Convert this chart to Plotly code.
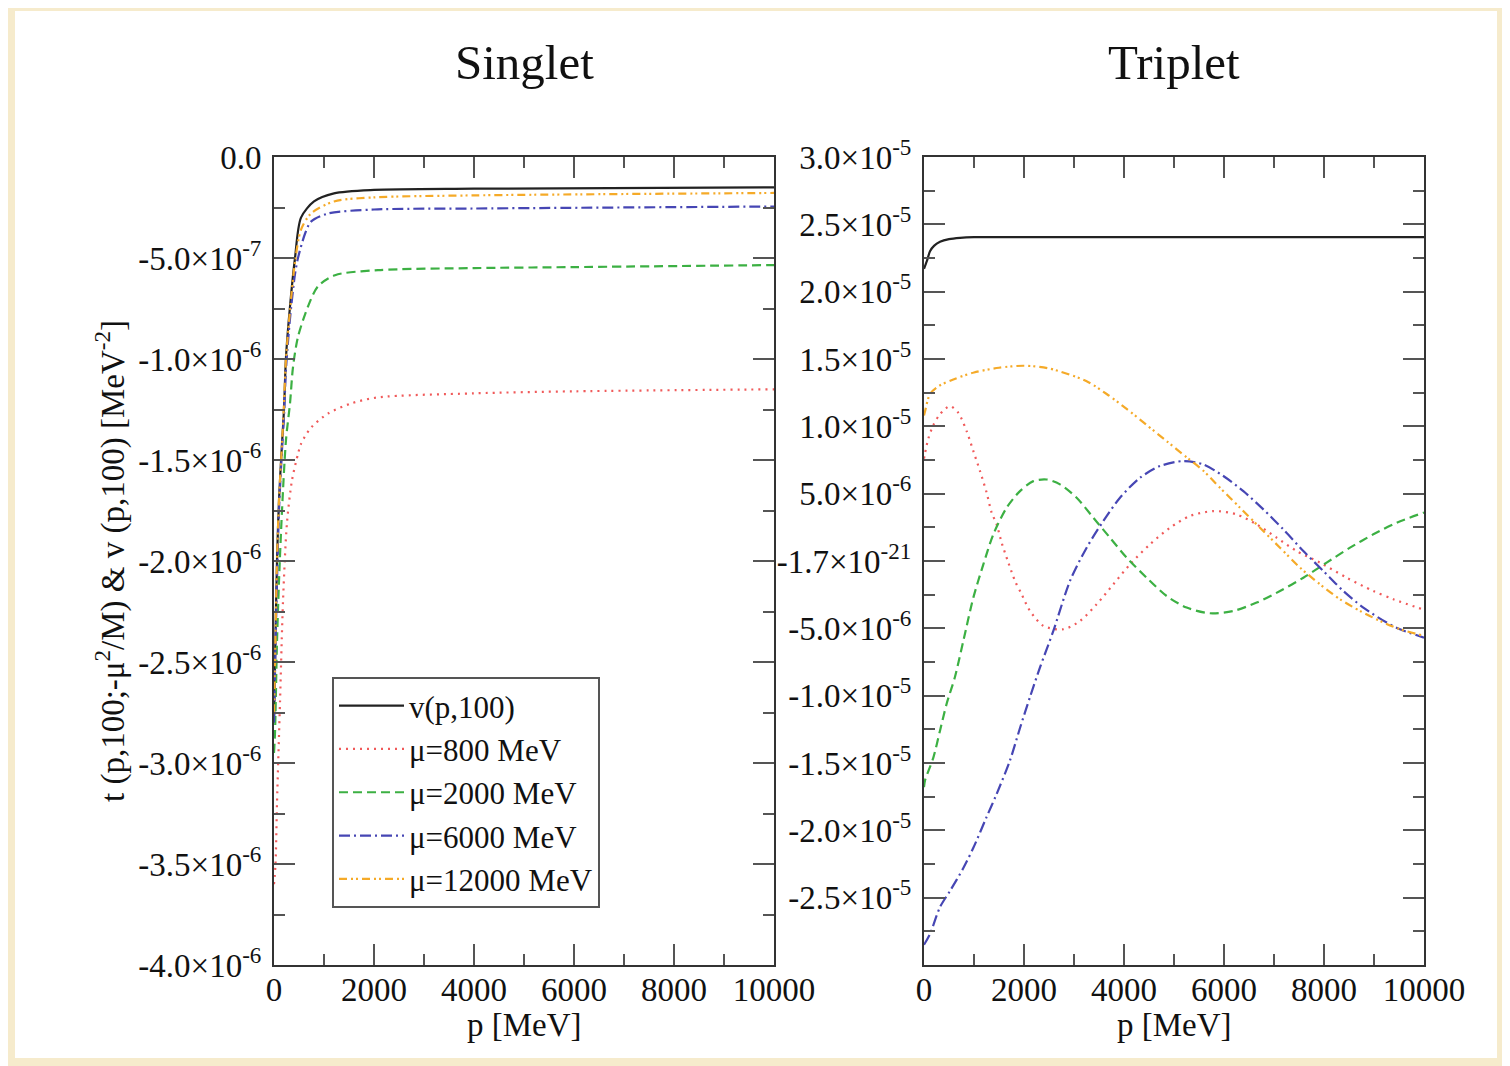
import plotly.graph_objects as go

# page offset (browser body margin) compensation
OX, OY = 8, 8
W, H = 1502, 1058

# ---------------- data (values in units of 1e-6 MeV^-2) ----------------
# Singlet panel
s_v_p   = [0, 20, 60, 100, 160, 200, 240, 320, 420, 540, 800, 1200, 2000, 4000, 10000]
s_v     = [-2.8, -2.5, -2.0, -1.7, -1.42, -1.25, -0.99, -0.74, -0.5, -0.30, -0.22, -0.18, -0.163, -0.157, -0.15]

s_800_p = [0, 30, 60, 120, 180, 260, 360, 480, 540, 740, 1080, 1540, 2080, 4000, 6000, 10000]
s_800   = [-3.6, -3.5, -3.2, -2.7, -2.2, -1.81, -1.6, -1.47, -1.42, -1.34, -1.27, -1.22, -1.19, -1.17, -1.16, -1.15]

s_2000_p = [0, 20, 60, 100, 160, 240, 320, 380, 480, 680, 880, 1220, 2080, 4000, 6000, 10000]
s_2000   = [-2.95, -2.85, -2.4, -2.1, -1.75, -1.40, -1.22, -1.04, -0.89, -0.74, -0.64, -0.585, -0.56, -0.55, -0.545, -0.535]

s_6000_p = [0, 20, 60, 100, 160, 200, 240, 320, 420, 480, 620, 740, 1080, 2000, 4000, 10000]
s_6000   = [-2.8, -2.55, -2.1, -1.75, -1.45, -1.28, -1.05, -0.8, -0.58, -0.5, -0.38, -0.32, -0.28, -0.26, -0.255, -0.245]

s_12000_p = [0, 20, 60, 100, 160, 200, 240, 320, 420, 540, 740, 1200, 2000, 4000, 10000]
s_12000   = [-2.75, -2.5, -2.0, -1.7, -1.42, -1.22, -1.0, -0.76, -0.52, -0.36, -0.28, -0.22, -0.2, -0.19, -0.178]

# Triplet panel
t_v_p = [0, 60, 120, 200, 320, 500, 720, 1000, 10000]
t_v   = [21.7, 22.3, 23.0, 23.4, 23.7, 23.9, 24.0, 24.05, 24.05]

t_800_p = [0, 20, 87, 187, 320, 520, 687, 853, 987, 1120, 1253, 1353, 1453, 1553, 1687, 1820, 1953,
           2120, 2387, 2787, 3120, 3453, 3787, 4120, 4520, 4920, 5320, 5787, 6253, 6653, 7053, 7453,
           7920, 8453, 8987, 9387, 10000]
t_800   = [7.6, 8.0, 9.1, 10.1, 10.9, 11.5, 11.0, 9.64, 8.16, 6.68, 5.07, 3.59, 2.72, 1.36, -0.12, -1.48, -2.47,
           -3.71, -4.82, -5.07, -4.45, -3.21, -1.73, -0.25, 1.24, 2.47, 3.34, 3.71, 3.46, 2.72, 1.73, 0.74,
           -0.12, -1.24, -2.23, -2.84, -3.62]

t_2000_p = [0, 20, 187, 320, 453, 620, 787, 987, 1187, 1387, 1653, 1920, 2187, 2453, 2720, 3053, 3387,
            3720, 4053, 4453, 4853, 5253, 5720, 6187, 6653, 7120, 7587, 8053, 8520, 8987, 9453, 10000]
t_2000   = [-16.8, -16.3, -14.6, -12.6, -10.6, -8.6, -5.93, -2.72, -0.25, 1.98, 3.96, 5.19, 5.93, 6.05, 5.69, 4.70, 3.21,
            1.73, 0.25, -1.24, -2.60, -3.46, -3.88, -3.71, -3.09, -2.23, -1.24, -0.12, 0.99, 1.98, 2.84, 3.6]

t_6000_p = [0, 120, 320, 520, 787, 987, 1253, 1453, 1720, 1920, 2120, 2320, 2587, 2920, 3253, 3587, 3920,
            4320, 4720, 5187, 5587, 5987, 6387, 6787, 7187, 7587, 7987, 8387, 8787, 9253, 9520, 10000]
t_6000   = [-28.5, -27.7, -25.7, -24.5, -22.8, -21.3, -19.0, -17.3, -14.8, -12.4, -10.1, -7.9, -5.19, -1.48, 0.99, 2.97, 4.70,
            6.18, 7.05, 7.42, 7.17, 6.31, 5.19, 3.83, 2.35, 0.74, -0.74, -2.23, -3.46, -4.57, -5.07, -5.69]

t_12000_p = [0, 20, 120, 300, 600, 1000, 1500, 2000, 2500, 3253, 3653, 4053, 4453, 4853, 5253, 5587, 5920,
             6320, 6720, 7120, 7520, 7920, 8320, 8720, 9120, 9520, 10000]
t_12000   = [10.8, 11.1, 12.4, 13.0, 13.5, 14.0, 14.35, 14.5, 14.3, 13.35, 12.4, 11.3, 10.1, 8.9, 7.7, 6.7, 5.44,
             3.96, 2.47, 0.99, -0.49, -1.73, -2.84, -3.71, -4.45, -5.07, -5.56]

# tick labels
x_ticks = [0, 2000, 4000, 6000, 8000, 10000]
x_ticktext = ["0", "2000", "4000", "6000", "8000", "10000"]
s_yticks = [0, -0.5e-6, -1.0e-6, -1.5e-6, -2.0e-6, -2.5e-6, -3.0e-6, -3.5e-6, -4.0e-6]
s_yticktext = ["0.0", "-5.0×10<sup>-7</sup>", "-1.0×10<sup>-6</sup>", "-1.5×10<sup>-6</sup>",
               "-2.0×10<sup>-6</sup>", "-2.5×10<sup>-6</sup>", "-3.0×10<sup>-6</sup>",
               "-3.5×10<sup>-6</sup>", "-4.0×10<sup>-6</sup>"]
t_yticks = [3.0e-5, 2.5e-5, 2.0e-5, 1.5e-5, 1.0e-5, 5.0e-6, 0, -5.0e-6, -1.0e-5, -1.5e-5, -2.0e-5, -2.5e-5, -3.0e-5]
t_yticktext = ["3.0×10<sup>-5</sup>", "2.5×10<sup>-5</sup>", "2.0×10<sup>-5</sup>", "1.5×10<sup>-5</sup>",
               "1.0×10<sup>-5</sup>", "5.0×10<sup>-6</sup>", "-1.7×10<sup>-21</sup>", "-5.0×10<sup>-6</sup>",
               "-1.0×10<sup>-5</sup>", "-1.5×10<sup>-5</sup>", "-2.0×10<sup>-5</sup>", "-2.5×10<sup>-5</sup>", ""]

names = ["v(p,100)", "μ=800 MeV", "μ=2000 MeV", "μ=6000 MeV", "μ=12000 MeV"]
colors = ["#222222", "#f05a5a", "#3cb043", "#4646b4", "#f5aa28"]
dashes = ["solid", "2px,5px", "9px,5px", "11px,4px,2px,4px", "8px,4px,2px,3px,2px,4px"]

FONT = "Liberation Serif"
TICK_SIZE = 33

def sc(vals):
    return [v * 1e-6 for v in vals]

fig = go.Figure()
singlet = [(s_v_p, s_v), (s_800_p, s_800), (s_2000_p, s_2000), (s_6000_p, s_6000), (s_12000_p, s_12000)]
triplet = [(t_v_p, t_v), (t_800_p, t_800), (t_2000_p, t_2000), (t_6000_p, t_6000), (t_12000_p, t_12000)]

for i, (px, py) in enumerate(singlet):
    fig.add_trace(go.Scatter(x=px, y=sc(py), mode="lines", name=names[i],
                             line=dict(color=colors[i], width=2.2, dash=dashes[i], shape="spline", smoothing=0.8),
                             xaxis="x", yaxis="y", showlegend=True))
for i, (px, py) in enumerate(triplet):
    fig.add_trace(go.Scatter(x=px, y=sc(py), mode="lines", name=names[i],
                             line=dict(color=colors[i], width=2.2, dash=dashes[i], shape="spline", smoothing=0.8),
                             xaxis="x2", yaxis="y2", showlegend=False))

def px2x(x):
    return (x - OX) / W

def px2y(y):
    return 1 - (y - OY) / H

common_axis = dict(showline=True, linecolor="#333333", linewidth=2, mirror="allticks",
                   ticks="inside", ticklen=21, tickwidth=1.5, tickcolor="#555555",
                   showgrid=False, zeroline=False, automargin=False,
                   tickfont=dict(family=FONT, size=TICK_SIZE, color="#111111"))

xdom1 = [px2x(274), px2x(774)]
xdom2 = [px2x(924), px2x(1424)]
ydom = [px2y(965), px2y(157)]

minor_x = dict(ticks="inside", ticklen=11, dtick=1000, tickcolor="#555555", tickwidth=1.5, showgrid=False)

fig.update_layout(
    width=W, height=H,
    margin=dict(l=0, r=0, t=0, b=0),
    paper_bgcolor="#f6ebcc",
    plot_bgcolor="white",
    template="none",
    font=dict(family=FONT, size=30, color="#111111"),
    xaxis=dict(domain=xdom1, range=[0, 10000], anchor="y", tickvals=x_ticks, ticktext=x_ticktext,
               ticklabelstandoff=-6, minor=minor_x, **common_axis),
    yaxis=dict(domain=ydom, range=[-4e-6, 0], anchor="x", tickvals=s_yticks, ticktext=s_yticktext,
               ticklabelstandoff=4,
               minor=dict(ticks="inside", ticklen=11, dtick=0.25e-6, tickcolor="#555555", tickwidth=1.5, showgrid=False),
               **common_axis),
    xaxis2=dict(domain=xdom2, range=[0, 10000], anchor="y2", tickvals=x_ticks, ticktext=x_ticktext,
                ticklabelstandoff=-6, minor=minor_x, **common_axis),
    yaxis2=dict(domain=ydom, range=[-3e-5, 3e-5], anchor="x2", tickvals=t_yticks, ticktext=t_yticktext,
                ticklabelstandoff=4,
                minor=dict(ticks="inside", ticklen=11, dtick=2.5e-6, tickcolor="#555555", tickwidth=1.5, showgrid=False),
                **common_axis),
    legend=dict(x=px2x(332), y=px2y(677), xanchor="left", yanchor="top",
                bgcolor="white", bordercolor="#555555", borderwidth=2,
                font=dict(family=FONT, size=31, color="#111111"), tracegroupgap=0,
                itemwidth=65),
    showlegend=True,
)

fig.add_shape(type="rect", xref="paper", yref="paper",
              x0=px2x(15), x1=px2x(1497), y0=px2y(1058), y1=px2y(11),
              fillcolor="white", line=dict(width=0), layer="below")

ann_font = dict(family=FONT, color="#111111")
fig.add_annotation(x=px2x(524), y=px2y(62), xref="paper", yref="paper", text="Singlet", showarrow=False,
                   font=dict(size=49, **ann_font), xanchor="center", yanchor="middle")
fig.add_annotation(x=px2x(1174), y=px2y(62), xref="paper", yref="paper", text="Triplet", showarrow=False,
                   font=dict(size=49, **ann_font), xanchor="center", yanchor="middle")
fig.add_annotation(x=px2x(524), y=px2y(1025), xref="paper", yref="paper", text="p [MeV]", showarrow=False,
                   font=dict(size=33, **ann_font), xanchor="center", yanchor="middle")
fig.add_annotation(x=px2x(1174), y=px2y(1025), xref="paper", yref="paper", text="p [MeV]", showarrow=False,
                   font=dict(size=33, **ann_font), xanchor="center", yanchor="middle")
fig.add_annotation(x=px2x(110), y=px2y(561), xref="paper", yref="paper",
                   text="t (p,100;-μ<sup>2</sup>/M) &amp; v (p,100) [MeV<sup>-2</sup>]", showarrow=False,
                   textangle=-90, font=dict(size=33, **ann_font), xanchor="center", yanchor="middle")

fig.write_html("out.html")
